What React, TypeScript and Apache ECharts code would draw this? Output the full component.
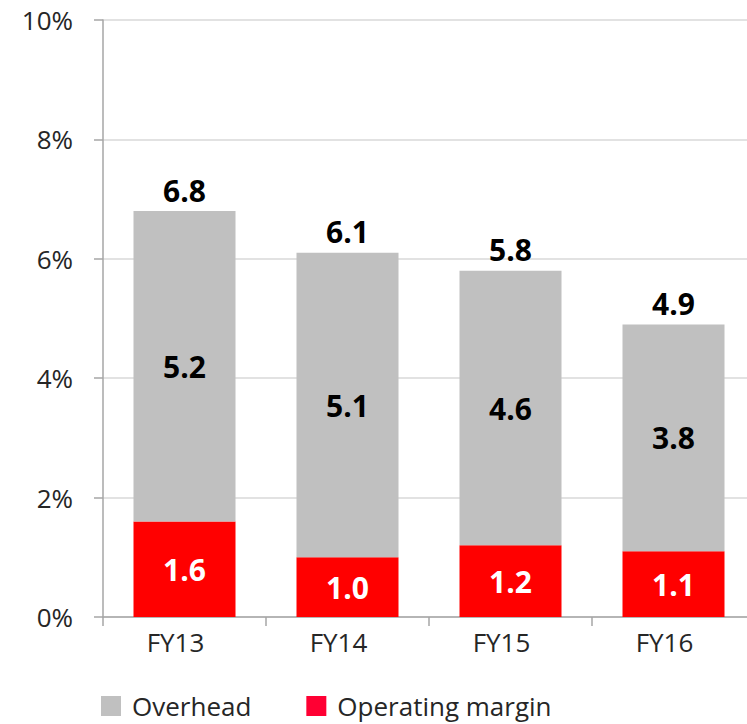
import React, { useEffect, useRef } from "react";
import * as echarts from "echarts";

const categories = ["FY13", "FY14", "FY15", "FY16"];
const operatingMargin = [1.6, 1.0, 1.2, 1.1];
const overhead = [5.2, 5.1, 4.6, 3.8];
const totals = [6.8, 6.1, 5.8, 4.9];
const yTicks = [0, 2, 4, 6, 8, 10];

const FONT = "'Open Sans', sans-serif";

export default function App() {
  const ref = useRef<HTMLDivElement>(null);
  useEffect(() => {
    document.body.style.margin = "0";
    const chart = echarts.init(ref.current!, null, { renderer: "svg" });
    chart.setOption({
      animation: false,
      textStyle: { fontFamily: FONT },
      grid: { left: 103, right: 0, top: 20, bottom: 107, containLabel: false },
      legend: {
        left: 101,
        top: 693,
        padding: 0,
        icon: "rect",
        itemWidth: 20,
        itemHeight: 20,
        itemGap: 55,
        textStyle: {
          fontFamily: FONT,
          fontSize: 26,
          lineHeight: 26,
          color: "#262626",
          padding: [0, 0, 0, 6],
        },
        data: [
          { name: "Overhead", itemStyle: { color: "#C0C0C0" } },
          { name: "Operating margin", itemStyle: { color: "#FF0033" } },
        ],
      },
      xAxis: {
        type: "category",
        data: categories,
        axisLine: { lineStyle: { color: "#A6A6A6", width: 1.5 } },
        axisTick: { show: true, length: 9, lineStyle: { color: "#A6A6A6", width: 1.5 } },
        axisLabel: {
          fontFamily: FONT,
          fontSize: 26,
          color: "#262626",
          margin: 12,
          padding: [0, 18, 0, 0],
        },
      },
      yAxis: {
        type: "value",
        min: 0,
        max: 10,
        interval: 2,
        axisLine: { show: true, lineStyle: { color: "#A6A6A6", width: 1.5 } },
        axisTick: { show: true, length: 9, lineStyle: { color: "#A6A6A6", width: 1.5 } },
        splitLine: { show: true, lineStyle: { color: "#D9D9D9", width: 1.5 } },
        axisLabel: {
          fontFamily: FONT,
          fontSize: 26,
          color: "#262626",
          margin: 30,
          formatter: (v: number) => (yTicks.includes(v) ? v + "%" : ""),
        },
      },
      series: [
        {
          name: "Total",
          type: "bar",
          data: totals,
          barWidth: 102,
          barGap: "-100%",
          z: 1,
          itemStyle: { color: "rgba(0,0,0,0)" },
          label: {
            show: true,
            position: "top",
            distance: 6,
            fontFamily: FONT,
            fontSize: 30,
            fontWeight: "bold",
            color: "#000",
            formatter: (p: any) => p.value.toFixed(1),
          },
          silent: true,
        },
        {
          name: "Operating margin",
          type: "bar",
          stack: "s",
          data: operatingMargin,
          barWidth: 102,
          z: 2,
          itemStyle: { color: "#FF0000" },
          label: {
            show: true,
            position: "inside",
            fontFamily: FONT,
            fontSize: 30,
            fontWeight: "bold",
            color: "#FFFFFF",
            formatter: (p: any) => p.value.toFixed(1),
          },
        },
        {
          name: "Overhead",
          type: "bar",
          stack: "s",
          data: overhead,
          barWidth: 102,
          z: 2,
          itemStyle: { color: "#C0C0C0" },
          label: {
            show: true,
            position: "inside",
            fontFamily: FONT,
            fontSize: 30,
            fontWeight: "bold",
            color: "#000000",
            formatter: (p: any) => p.value.toFixed(1),
          },
        },
      ],
    });
    return () => chart.dispose();
  }, []);
  return (
    <div style={{ width: 747, height: 724, overflow: "hidden", position: "relative" }}>
      <div ref={ref} style={{ width: 755, height: 724 }} />
    </div>
  );
}
